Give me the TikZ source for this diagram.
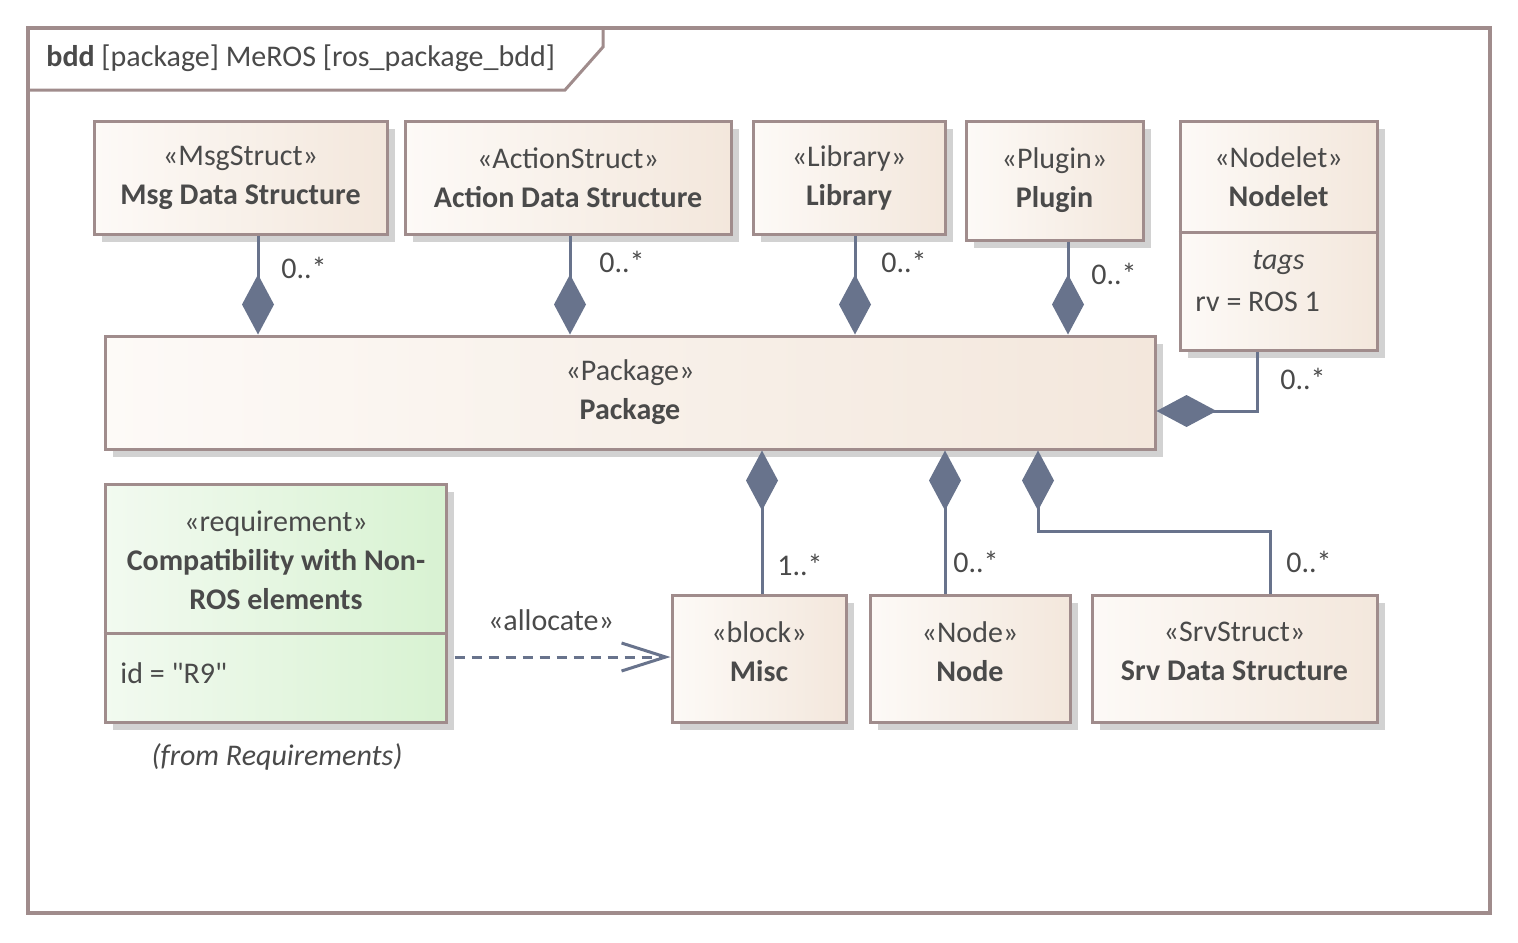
\documentclass[tikz,border=0pt]{standalone}
\usepackage{fontspec}
\setmainfont{Carlito}[Ligatures=TeXOff]
\usetikzlibrary{arrows.meta,shadows,calc,positioning}

\definecolor{boxline}{RGB}{160,140,140}
\definecolor{boxleft}{RGB}{253,250,247}
\definecolor{boxright}{RGB}{243,231,220}
\definecolor{reqleft}{RGB}{242,250,240}
\definecolor{reqright}{RGB}{216,242,210}
\definecolor{conn}{RGB}{104,115,140}
\definecolor{txt}{RGB}{74,74,74}
\definecolor{shade}{RGB}{210,210,210}

\tikzset{
  block/.style={draw=boxline, line width=1.5pt, left color=boxleft, right color=boxright,
    general shadow={fill=shade, shadow xshift=4pt, shadow yshift=-4pt},
    align=center, inner sep=0pt},
  reqbox/.style={block, left color=reqleft, right color=reqright},
  divider/.style={draw=boxline, line width=1.5pt},
  comp/.style={draw=conn, line width=1.5pt, -{Diamond[length=30pt, width=16pt]}},
  alloc/.style={draw=conn, line width=1.5pt, dash pattern=on 5pt off 3.5pt,
    -{Straight Barb[length=22pt, width=14pt]}},
  mult/.style={inner sep=0pt},
}

\begin{document}
\begin{tikzpicture}[x=0.5pt, y=-0.5pt, font=\fontsize{15}{19.5}\selectfont, text=txt]
  \useasboundingbox (0,0) rectangle (1518,942);

  % --- Marco del diagrama ---
  \draw[boxline, line width=1.6pt] (28,28) rectangle (1490,913);
  \draw[boxline, line width=1.5pt] (30,90) -- (565,90) -- (603,47) -- (603,30);
  \node[anchor=west, inner sep=0pt] (title) at (46,58)
    {\textbf{bdd} [package] MeROS [ros\_package\_bdd]};

  % --- Bloques de arriba ---
  \node[block, minimum width=146.5pt, minimum height=56.5pt] (msg) at (240.5,177.5)
    {«MsgStruct»\\\textbf{Msg Data Structure}};
  \node[block, minimum width=163pt, minimum height=56.5pt] (act) at (568,177.5)
    {«ActionStruct»\\\textbf{Action Data Structure}};
  \node[block, minimum width=96pt, minimum height=56.5pt] (lib) at (849,177.5)
    {«Library»\\\textbf{Library}};
  \node[block, minimum width=88.5pt, minimum height=59.5pt, text depth=3pt] (plug) at (1054.5,180.5)
    {«Plugin»\\\textbf{Plugin}};

  % Nodelet con compartimento de tags
  \node[block, minimum width=98.5pt, minimum height=114.5pt] (nodelet) at (1278.5,235.5) {};
  \node (nodelettitle) at (1278.5,177) [align=center] {«Nodelet»\\\textbf{Nodelet}};
  \coordinate (nd) at (0,232);
  \draw[divider] (nodelet.west |- nd) -- (nodelet.east |- nd);
  \node[font=\fontsize{15}{19.5}\selectfont\itshape] (tags) at (1278.5,263) {tags};
  \node[anchor=west, inner sep=0pt] (rv) at (1195,302) {rv = ROS 1};

  % --- Package ---
  \node[block, minimum width=525pt, minimum height=56.5pt] (pkg) at (630,392.5)
    {«Package»\\\textbf{Package}};

  % --- Requisito ---
  \node[reqbox, minimum width=170.5pt, minimum height=119pt] (req) at (275.5,603) {};
  \node (reqtitle) at (276,560) [align=center]
    {«requirement»\\\textbf{Compatibility with Non-}\\\textbf{ROS elements}};
  \coordinate (rd) at (0,633);
  \draw[divider] (req.west |- rd) -- (req.east |- rd);
  \node[anchor=west, inner sep=0pt] (reqid) at (120,673) {id = "R9"};
  \node[font=\fontsize{15}{19.5}\selectfont\itshape] (reqfrom) at (277,757) {(from Requirements)};

  % --- Bloques de abajo ---
  \node[block, minimum width=87pt, minimum height=63.5pt, text depth=7pt] (misc) at (759,658.5)
    {«block»\\\textbf{Misc}};
  \node[block, minimum width=100pt, minimum height=63.5pt, text depth=7pt] (rosnode) at (970,658.5)
    {«Node»\\\textbf{Node}};
  \node[block, minimum width=142.5pt, minimum height=63.5pt, text depth=7pt] (srv) at (1234.5,658.5)
    {«SrvStruct»\\\textbf{Srv Data Structure}};

  % --- Composiciones ---
  \coordinate (c1) at (258,0);
  \coordinate (c2) at (570,0);
  \coordinate (c3) at (855,0);
  \coordinate (c4) at (1068,0);
  \coordinate (c5) at (1257,411);
  \coordinate (c6) at (762,0);
  \coordinate (c7) at (945,0);
  \coordinate (sv1) at (1270,531);
  \coordinate (sv2) at (1038,531);

  \draw[comp] (msg.south -| c1) -- (pkg.north -| c1);
  \draw[comp] (act.south -| c2) -- (pkg.north -| c2);
  \draw[comp] (lib.south -| c3) -- (pkg.north -| c3);
  \draw[comp] (plug.south -| c4) -- (pkg.north -| c4);
  \draw[comp] (nodelet.south -| c5) -- (c5) -- (pkg.east |- c5);
  \draw[comp] (misc.north -| c6) -- (pkg.south -| c6);
  \draw[comp] (rosnode.north -| c7) -- (pkg.south -| c7);
  \draw[comp] (srv.north -| sv1) -- (sv1) -- (sv2) -- (pkg.south -| sv2);

  % Multiplicidades
  \node[mult] (m1) at (304,268) {0..*};
  \node[mult] (m2) at (622,262) {0..*};
  \node[mult] (m3) at (904,262) {0..*};
  \node[mult] (m4) at (1114,274) {0..*};
  \node[mult] (m5) at (1303,379) {0..*};
  \node[mult] (m6) at (800,565) {1..*};
  \node[mult] (m7) at (976,562) {0..*};
  \node[mult] (m8) at (1309,562) {0..*};

  % --- Allocate ---
  \coordinate (al) at (0,657);
  \draw[alloc, shorten <=3.5pt] (req.east |- al) -- (misc.west |- al);
  \node (alloclabel) at (551,620) {«allocate»};
\end{tikzpicture}
\end{document}
